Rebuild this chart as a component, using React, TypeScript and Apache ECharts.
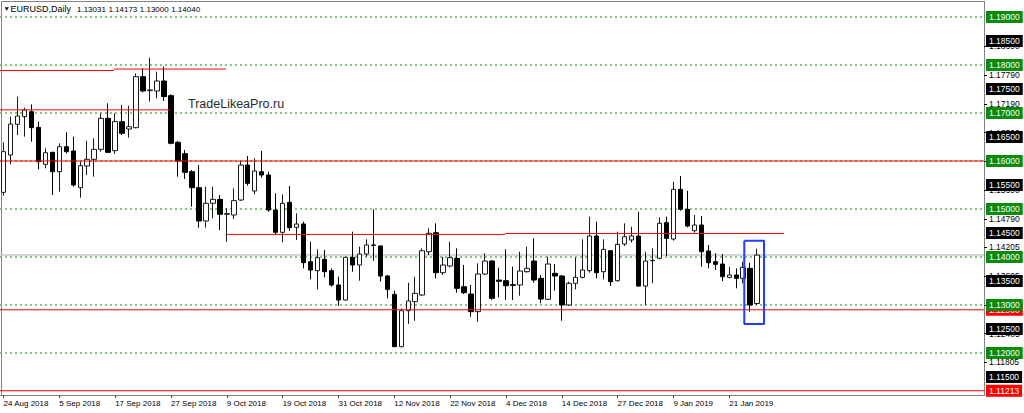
import React, { useEffect, useRef } from "react";
import * as echarts from "echarts";

const dates = [
  "24 Aug 2018", "27 Aug 2018", "28 Aug 2018", "29 Aug 2018", "30 Aug 2018", "31 Aug 2018",
  "3 Sep 2018", "4 Sep 2018", "5 Sep 2018", "6 Sep 2018", "7 Sep 2018", "10 Sep 2018", "11 Sep 2018",
  "12 Sep 2018", "13 Sep 2018", "14 Sep 2018", "17 Sep 2018", "18 Sep 2018", "19 Sep 2018", "20 Sep 2018",
  "21 Sep 2018", "24 Sep 2018", "25 Sep 2018", "26 Sep 2018", "27 Sep 2018", "28 Sep 2018",
  "1 Oct 2018", "2 Oct 2018", "3 Oct 2018", "4 Oct 2018", "5 Oct 2018", "8 Oct 2018", "9 Oct 2018",
  "10 Oct 2018", "11 Oct 2018", "12 Oct 2018", "15 Oct 2018", "16 Oct 2018", "17 Oct 2018", "18 Oct 2018",
  "19 Oct 2018", "22 Oct 2018", "23 Oct 2018", "24 Oct 2018", "25 Oct 2018", "26 Oct 2018", "29 Oct 2018",
  "30 Oct 2018", "31 Oct 2018",
  "1 Nov 2018", "2 Nov 2018", "5 Nov 2018", "6 Nov 2018", "7 Nov 2018", "8 Nov 2018", "9 Nov 2018",
  "12 Nov 2018", "13 Nov 2018", "14 Nov 2018", "15 Nov 2018", "16 Nov 2018", "19 Nov 2018", "20 Nov 2018",
  "21 Nov 2018", "22 Nov 2018", "23 Nov 2018", "26 Nov 2018", "27 Nov 2018", "28 Nov 2018", "29 Nov 2018",
  "30 Nov 2018",
  "3 Dec 2018", "4 Dec 2018", "5 Dec 2018", "6 Dec 2018", "7 Dec 2018", "10 Dec 2018", "11 Dec 2018",
  "12 Dec 2018", "13 Dec 2018", "14 Dec 2018", "17 Dec 2018", "18 Dec 2018", "19 Dec 2018", "20 Dec 2018",
  "21 Dec 2018", "24 Dec 2018", "26 Dec 2018", "27 Dec 2018", "28 Dec 2018", "31 Dec 2018",
  "2 Jan 2019", "3 Jan 2019", "4 Jan 2019", "7 Jan 2019", "8 Jan 2019", "9 Jan 2019", "10 Jan 2019",
  "11 Jan 2019", "14 Jan 2019", "15 Jan 2019", "16 Jan 2019", "17 Jan 2019", "18 Jan 2019", "21 Jan 2019",
  "22 Jan 2019", "23 Jan 2019", "24 Jan 2019", "25 Jan 2019",
];

const opens = [
  1.15347, 1.16125, 1.16764, 1.16923, 1.17027, 1.16701, 1.1593, 1.1618, 1.15777, 1.16298,
  1.16208, 1.15444, 1.15896, 1.16035, 1.16243, 1.16889, 1.16215, 1.16819, 1.16666, 1.16694,
  1.17757, 1.17465, 1.17458, 1.17666, 1.17361, 1.16389, 1.16152, 1.15777, 1.15444, 1.1475,
  1.15118, 1.15201, 1.14889, 1.14875, 1.15187, 1.15916, 1.15375, 1.15777, 1.15708, 1.14979,
  1.14514, 1.15139, 1.14618, 1.14687, 1.13902, 1.13715, 1.13951, 1.13715, 1.13416, 1.13104,
  1.13993, 1.13833, 1.14062, 1.1425, 1.14229, 1.13604, 1.13222, 1.12131, 1.12881, 1.13069,
  1.13208, 1.14111, 1.14506, 1.13673, 1.13812, 1.13972, 1.13381, 1.13229, 1.12861, 1.13645,
  1.13916, 1.1352, 1.13506, 1.13423, 1.13416, 1.13694, 1.13916, 1.13555, 1.13118, 1.13659,
  1.13604, 1.13, 1.13451, 1.13576, 1.13715, 1.14437, 1.13694, 1.14131, 1.13506, 1.1427,
  1.14354, 1.14437, 1.13395, 1.13923, 1.13972, 1.14715, 1.14375, 1.15409, 1.14993, 1.14548,
  1.14666, 1.14125, 1.13902, 1.13854, 1.13576, 1.13625, 1.13555, 1.13763, 1.13031,
];

const closes = [
  1.16194, 1.1677, 1.16937, 1.17062, 1.16694, 1.15986, 1.16173, 1.15777, 1.16298, 1.16194,
  1.155, 1.15903, 1.16035, 1.16243, 1.16889, 1.1618, 1.16819, 1.16576, 1.16715, 1.17757,
  1.17458, 1.17479, 1.17666, 1.1734, 1.16368, 1.16, 1.15764, 1.15444, 1.1475, 1.15118,
  1.15201, 1.14889, 1.14903, 1.15173, 1.15916, 1.15534, 1.15791, 1.15708, 1.14979, 1.14514,
  1.15118, 1.14611, 1.14687, 1.13882, 1.13729, 1.13986, 1.13694, 1.13416, 1.13104, 1.13993,
  1.13833, 1.14062, 1.1425, 1.14243, 1.13604, 1.13326, 1.12131, 1.12881, 1.13083, 1.13243,
  1.14131, 1.14493, 1.13673, 1.13833, 1.13986, 1.13347, 1.13256, 1.12861, 1.13645, 1.13916,
  1.13138, 1.13493, 1.13402, 1.13409, 1.13708, 1.13763, 1.1352, 1.13124, 1.13854, 1.13604,
  1.13, 1.13451, 1.13576, 1.13729, 1.14437, 1.13673, 1.14159, 1.13486, 1.14263, 1.14423,
  1.14437, 1.13395, 1.13916, 1.1393, 1.14701, 1.14388, 1.15409, 1.14993, 1.14645, 1.14666,
  1.14111, 1.13881, 1.13847, 1.1359, 1.13625, 1.13555, 1.13784, 1.13, 1.1404,
];

const lows = [
  1.1528, 1.1593, 1.16541, 1.16507, 1.16403, 1.15826, 1.15847, 1.15291, 1.15361, 1.16159,
  1.15465, 1.15236, 1.15708, 1.15673, 1.16194, 1.16173, 1.16145, 1.16541, 1.16486, 1.1668,
  1.1743, 1.17236, 1.17305, 1.1725, 1.16347, 1.15673, 1.15625, 1.15048, 1.14611, 1.14611,
  1.14805, 1.14562, 1.14319, 1.14791, 1.15166, 1.15486, 1.15305, 1.15652, 1.14944, 1.14472,
  1.14305, 1.14541, 1.14354, 1.13763, 1.13534, 1.13326, 1.13576, 1.13382, 1.12979, 1.1309,
  1.13694, 1.13506, 1.14006, 1.13923, 1.13486, 1.13138, 1.12131, 1.12118, 1.12604, 1.12673,
  1.13187, 1.14041, 1.13555, 1.13625, 1.13784, 1.13256, 1.13229, 1.12756, 1.12652, 1.13625,
  1.13104, 1.13159, 1.13104, 1.13104, 1.13194, 1.13673, 1.13465, 1.13034, 1.13104, 1.13298,
  1.12673, 1.12979, 1.13326, 1.13555, 1.13673, 1.13555, 1.13534, 1.13395, 1.13486, 1.14229,
  1.14298, 1.13381, 1.13, 1.13451, 1.13951, 1.1402, 1.1434, 1.14965, 1.14618, 1.14506,
  1.13798, 1.13763, 1.13729, 1.135, 1.13555, 1.13347, 1.13451, 1.12861, 1.13,
];

const highs = [
  1.16389, 1.16923, 1.1734, 1.17111, 1.1718, 1.16819, 1.16264, 1.16194, 1.16368, 1.16597,
  1.16507, 1.15986, 1.16423, 1.16472, 1.16993, 1.17201, 1.16993, 1.17166, 1.17152, 1.17826,
  1.1793, 1.18152, 1.17861, 1.17965, 1.17389, 1.16417, 1.16229, 1.15812, 1.15916, 1.15465,
  1.15465, 1.15291, 1.15014, 1.1543, 1.16, 1.16104, 1.16055, 1.16208, 1.15777, 1.15326,
  1.15305, 1.15479, 1.14909, 1.14736, 1.14319, 1.14159, 1.14145, 1.13763, 1.1359, 1.14006,
  1.14527, 1.14215, 1.14368, 1.14993, 1.1425, 1.13625, 1.13298, 1.1293, 1.13465, 1.1359,
  1.1418, 1.14597, 1.14701, 1.14006, 1.14319, 1.1418, 1.13833, 1.13416, 1.13868, 1.14076,
  1.13937, 1.13777, 1.14159, 1.13798, 1.14111, 1.14215, 1.14388, 1.13625, 1.14006, 1.13854,
  1.13625, 1.13486, 1.13993, 1.14368, 1.1484, 1.14736, 1.14368, 1.14145, 1.14527, 1.14701,
  1.14631, 1.14944, 1.14111, 1.1418, 1.14826, 1.1484, 1.15569, 1.15687, 1.15381, 1.14875,
  1.14854, 1.1425, 1.14076, 1.14062, 1.13798, 1.13763, 1.13902, 1.13881, 1.14173,
];

const greenLevels = [1.19, 1.18, 1.17, 1.16, 1.15, 1.14, 1.13, 1.12];
const blackLevels = [1.185, 1.175, 1.165, 1.155, 1.145, 1.135, 1.125, 1.115];
const plainLevels = [
  1.1839, 1.1779, 1.1719, 1.1659, 1.1599, 1.1539, 1.1479, 1.14205, 1.13605, 1.13005, 1.12405, 1.11805,
];
const redLabelLevels = [1.129, 1.11213];
const redFullLines = [1.16, 1.129, 1.11213];
// [startIndex, endIndex, price]
const redSegments = [
  [-0.5, 15.84, 1.17885],
  [15.84, 31.9, 1.17915],
  [-0.5, 23.86, 1.17065],
  [32.03, 71.86, 1.1447],
  [71.86, 111.84, 1.1449],
];
const bidPrice = 1.1404;
const headerSymbol = "EURUSD,Daily";
const headerValues = ["1.13031", "1.14173", "1.13000", "1.14040"];
const watermark = "TradeLikeaPro.ru";
// [leftIndex, rightIndex, topPrice, bottomPrice]
const highlightBox = [106.15, 108.98, 1.14339, 1.12604];

const SLOTS = 141;
const Y_MIN = 1.11125;
const Y_MAX = 1.19312;
const FONT = "'Liberation Sans', Arial, sans-serif";

export default function App() {
  const ref = useRef<HTMLDivElement>(null);

  useEffect(() => {
    if (!ref.current) return;
    const chart = echarts.init(ref.current, null, { renderer: "svg" });

    const categories = dates.concat(
      Array.from({ length: SLOTS - dates.length }, (_, i) => "pad" + i)
    );
    const candleData = dates.map((_, i) => [opens[i], closes[i], lows[i], highs[i]]);
    const showIdx = (index: number) => index % 8 === 0 && index <= 104;

    const boxStyle: Record<string, string> = {};
    greenLevels.forEach((v) => (boxStyle[v.toFixed(5)] = "g"));
    blackLevels.forEach((v) => (boxStyle[v.toFixed(5)] = "b"));
    redLabelLevels.forEach((v) => (boxStyle[v.toFixed(5)] = "r"));

    const richBox = (bg: string) => ({
      backgroundColor: bg,
      color: "#ffffff",
      fontSize: 8.5,
      fontFamily: FONT,
      padding: [2, 3, 1, 3],
      lineHeight: 10,
    });

    const full = (p: number) => [
      [-0.5, p],
      [SLOTS - 0.5, p],
    ];

    const series: any[] = [];
    greenLevels.forEach((lv) =>
      series.push({
        type: "line",
        xAxisIndex: 1,
        yAxisIndex: 0,
        data: full(lv),
        symbol: "none",
        silent: true,
        z: 1,
        lineStyle: { color: "#5ab55a", width: 1.4, type: [2, 3] },
      })
    );
    series.push({
      type: "line",
      xAxisIndex: 1,
      yAxisIndex: 0,
      data: full(bidPrice),
      symbol: "none",
      silent: true,
      z: 1,
      lineStyle: { color: "#c8c8c8", width: 1.5 },
    });
    series.push({
      type: "candlestick",
      xAxisIndex: 0,
      yAxisIndex: 0,
      data: candleData,
      barWidth: 5,
      z: 3,
      itemStyle: {
        color: "#ffffff",
        color0: "#000000",
        borderColor: "#1a1a1a",
        borderColor0: "#000000",
        borderWidth: 1,
      },
    });
    redFullLines.forEach((lv) =>
      series.push({
        type: "line",
        xAxisIndex: 1,
        yAxisIndex: 0,
        data: full(lv),
        symbol: "none",
        silent: true,
        z: 4,
        lineStyle: { color: "#ff0000", width: 1 },
      })
    );
    redSegments.forEach(([a, b, p]) =>
      series.push({
        type: "line",
        xAxisIndex: 1,
        yAxisIndex: 0,
        data: [
          [a, p],
          [b, p],
        ],
        symbol: "none",
        silent: true,
        z: 4,
        lineStyle: { color: "#ff0000", width: 1 },
      })
    );
    const [bx0, bx1, bt, bb] = highlightBox;
    series.push({
      type: "line",
      xAxisIndex: 1,
      yAxisIndex: 0,
      data: [
        [bx0, bt],
        [bx1, bt],
        [bx1, bb],
        [bx0, bb],
        [bx0, bt],
      ],
      symbol: "none",
      silent: true,
      z: 5,
      lineStyle: { color: "#1f3cff", width: 2 },
    });

    const option: any = {
      animation: false,
      backgroundColor: "#ffffff",
      grid: {
        left: 0,
        right: 40,
        top: 2,
        bottom: 18,
        containLabel: false,
        outerBoundsMode: "none",
      },
      xAxis: [
        {
          type: "category",
          data: categories,
          boundaryGap: true,
          position: "bottom",
          axisLine: { show: true, onZero: false, lineStyle: { color: "#808080", width: 1 } },
          axisTick: {
            show: true,
            alignWithLabel: true,
            interval: (index: number) => showIdx(index),
            length: 3,
            lineStyle: { color: "#444" },
          },
          axisLabel: {
            interval: (index: number) => showIdx(index),
            align: "left",
            margin: 4,
            fontSize: 8,
            fontFamily: FONT,
            color: "#000",
            hideOverlap: false,
          },
          splitLine: { show: false },
        },
        {
          type: "value",
          min: -0.5,
          max: SLOTS - 0.5,
          show: false,
          position: "top",
          axisLine: { show: false, onZero: false },
          axisTick: { show: false },
          axisLabel: { show: false },
          splitLine: { show: false },
        },
      ],
      yAxis: [
        {
          type: "value",
          position: "right",
          min: Y_MIN,
          max: Y_MAX,
          z: 2,
          axisLine: { show: true, onZero: false, lineStyle: { color: "#808080", width: 1 } },
          axisTick: {
            show: true,
            customValues: plainLevels,
            length: 3,
            lineStyle: { color: "#000" },
          },
          axisLabel: {
            customValues: plainLevels,
            formatter: (v: number) => v.toFixed(5),
            margin: 5,
            fontSize: 8.5,
            fontFamily: FONT,
            color: "#000",
            hideOverlap: false,
            showMinLabel: true,
            showMaxLabel: true,
          },
          splitLine: { show: false },
        },
        {
          type: "value",
          position: "right",
          min: Y_MIN,
          max: Y_MAX,
          z: 6,
          axisLine: { show: false, onZero: false },
          axisTick: { show: false },
          axisLabel: {
            customValues: [...redLabelLevels, ...blackLevels, ...greenLevels],
            formatter: (v: number) => {
              const key = boxStyle[v.toFixed(5)] || "b";
              return "{" + key + "|" + v.toFixed(5) + "}";
            },
            margin: 2,
            hideOverlap: false,
            showMinLabel: true,
            showMaxLabel: true,
            rich: {
              g: richBox("#0a8a0a"),
              b: richBox("#000000"),
              r: richBox("#ff0000"),
            },
          },
          splitLine: { show: false },
        },
      ],
      graphic: [
        {
          type: "rect",
          silent: true,
          z: 0,
          shape: { x: 1.5, y: 1.5, width: 983, height: 394 },
          style: { fill: "none", stroke: "#808080", lineWidth: 1 },
        },
        {
          type: "polygon",
          silent: true,
          z: 10,
          shape: {
            points: [
              [4.6, 7.2],
              [8.8, 7.2],
              [6.7, 10.8],
            ],
          },
          style: { fill: "#000" },
        },
        {
          type: "text",
          silent: true,
          z: 10,
          x: 10.5,
          y: 9,
          style: {
            text: headerSymbol,
            fontSize: 9,
            fontFamily: FONT,
            fill: "#000",
            verticalAlign: "middle",
          },
        },
        ...headerValues.map((t, i) => ({
          type: "text",
          silent: true,
          z: 10,
          x: 77 + i * 31.4,
          y: 9,
          style: {
            text: t,
            fontSize: 8,
            fontFamily: FONT,
            fill: "#000",
            verticalAlign: "middle",
          },
        })),
        {
          type: "text",
          silent: true,
          z: 10,
          x: 188,
          y: 104,
          style: {
            text: watermark,
            fontSize: 12.5,
            fontFamily: FONT,
            fill: "#2a2a2a",
            verticalAlign: "middle",
          },
        },
      ],
      series,
    };

    chart.setOption(option);
    return () => chart.dispose();
  }, []);

  return (
    <div
      ref={ref}
      style={{ position: "fixed", left: 0, top: 0, width: 1024, height: 413, background: "#fff" }}
    />
  );
}
